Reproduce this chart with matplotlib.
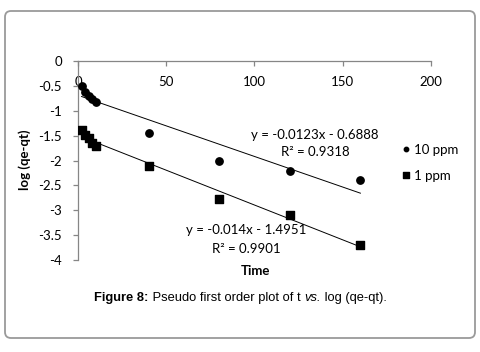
import numpy as np
import matplotlib
matplotlib.use("Agg")
import matplotlib.pyplot as plt
from matplotlib.patches import FancyBboxPatch

plt.rcParams['font.family'] = ['Lato', 'DejaVu Sans']
plt.rcParams['font.size'] = 9

# data
time = [2, 4, 6, 8, 10, 40, 80, 120, 160]
ppm10 = [-0.50, -0.62, -0.70, -0.76, -0.82, -1.45, -2.00, -2.22, -2.40]
ppm1 = [-1.39, -1.49, -1.55, -1.65, -1.71, -2.12, -2.77, -3.10, -3.70]
fit10 = (-0.0123, -0.6888, 0.9318)
fit1 = (-0.014, -1.4951, 0.9901)

W, H = 481, 352
fig = plt.figure(figsize=(W/100, H/100), dpi=100)

def fx(px):
    return px / W

def fy(py):
    return 1 - py / H

# rounded frame around whole figure
frame = FancyBboxPatch((5, H-338), 470, 327, boxstyle="round,pad=0,rounding_size=6",
                       transform=None, facecolor="white", edgecolor="#9a9a9a",
                       linewidth=1.3, zorder=-10)
fig.patches.append(frame)

ax = fig.add_axes([fx(78), fy(260), fx(431)-fx(78), fy(61)-fy(260)])
ax.patch.set_alpha(0)

ax.scatter(time, ppm10, marker="o", s=28, color="black", zorder=3, label="10 ppm")
ax.scatter(time, ppm1, marker="s", s=38, color="black", zorder=3, label="1 ppm")

xx = np.array([min(time), max(time)])
ax.plot(xx, fit10[0]*xx + fit10[1], color="black", lw=0.7)
ax.plot(xx, fit1[0]*xx + fit1[1], color="black", lw=0.7)

ax.set_xlim(0, 200)
ax.set_ylim(-4, 0)
ax.set_xticks([0, 50, 100, 150, 200])
ax.set_yticks(np.arange(-4, 0.01, 0.5))
ax.set_yticklabels(["-4", "-3.5", "-3", "-2.5", "-2", "-1.5", "-1", "-0.5", "0"])

ax.spines["top"].set_visible(False)
ax.spines["right"].set_visible(False)
ax.spines["bottom"].set_position(("data", 0))
for s in ("left", "bottom"):
    ax.spines[s].set_color("#868686")
    ax.spines[s].set_linewidth(0.9)
ax.tick_params(axis="both", direction="out", length=3.5, width=0.9, color="#868686",
               labelsize=9.5)
ax.tick_params(axis="y", pad=8)
ax.tick_params(axis="x", pad=7)

ax.legend(loc="center left", bbox_to_anchor=(fx(397), fy(163)), bbox_transform=fig.transFigure,
          frameon=False, handletextpad=0.3, handlelength=0.6, labelspacing=1.05,
          markerscale=0.6, fontsize=9.5, borderaxespad=0, scatteryoffsets=[0.5])

fig.text(fx(315), fy(135), "y = -0.0123x - 0.6888", ha="center", va="center", fontsize=9.5)
fig.text(fx(315), fy(152.5), "R² = 0.9318", ha="center", va="center", fontsize=9.5)
fig.text(fx(246.5), fy(230.5), "y = -0.014x - 1.4951", ha="center", va="center", fontsize=9.5)
fig.text(fx(246.5), fy(249), "R² = 0.9901", ha="center", va="center", fontsize=9.5)

fig.text(fx(255), fy(271), "Time", ha="center", va="center", fontsize=9.5, fontweight="bold")
fig.text(fx(25), fy(160), "log (qe-qt)", ha="center", va="center", rotation=90,
         fontsize=9.5, fontweight="bold")

# caption with mixed styles, placed piece by piece
parts = [("Figure 8:", "bold", "normal"), (" Pseudo first order plot of t ", "normal", "normal"),
         ("vs.", "normal", "italic"), (" log (qe-qt).", "normal", "normal")]
renderer = fig.canvas.get_renderer()
texts = []
for s, w, st in parts:
    t = fig.text(0, fy(298), s, ha="left", va="center", fontsize=9.3,
                 family="Liberation Sans", fontweight=w, fontstyle=st)
    texts.append(t)
widths = [t.get_window_extent(renderer).width for t in texts]
x0 = 240.5 - sum(widths) / 2
for t, w in zip(texts, widths):
    t.set_x(fx(x0))
    x0 += w

fig.savefig("out.png", dpi=100)
